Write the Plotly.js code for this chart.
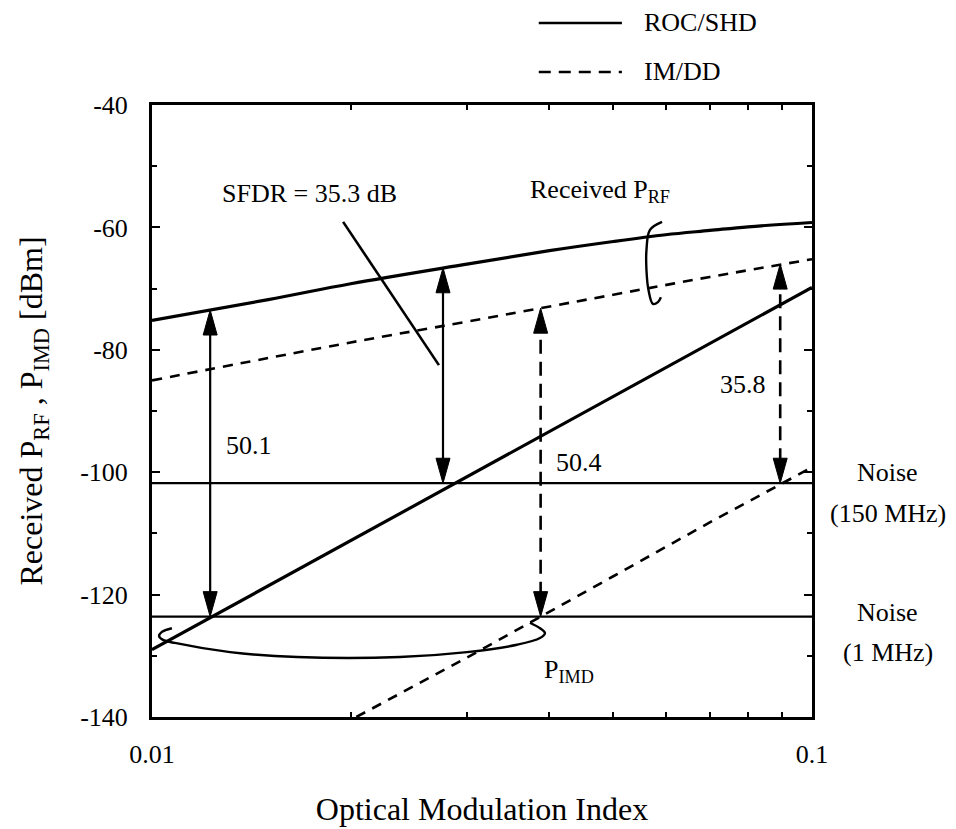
<!DOCTYPE html>
<html>
<head>
<meta charset="utf-8">
<script src="https://cdn.plot.ly/plotly-3.0.1.min.js"></script>
<style>html,body{margin:0;padding:0;background:#fff;}</style>
</head>
<body>
<div id="chart" style="width:956px;height:829px;"></div>
<script>
// ---------- data ----------
const rocRfX   = [0.01, 0.015, 0.02, 0.03, 0.04, 0.05, 0.06, 0.07, 0.08, 0.1];
const rocRfY   = [-75.2, -71.8, -69.2, -66.0, -63.8, -62.3, -61.2, -60.5, -59.9, -59.2];
const rocImdX  = [0.01, 0.02, 0.03, 0.05, 0.07, 0.1];
const rocImdY  = [-129.0, -111.2, -100.8, -87.7, -79.0, -69.8];
const imddRfX  = [0.01, 0.02, 0.03, 0.05, 0.07, 0.1];
const imddRfY  = [-85.0, -78.8, -75.4, -71.0, -68.1, -65.2];
const imddImdX = [0.0204, 0.03, 0.05, 0.07, 0.1];
const imddImdY = [-140.0, -130.3, -117.0, -108.2, -99.2];
const noiseX   = [0.01, 0.1];
const noise150 = -101.8;
const noise1   = -123.6;
// tick labels
const yTickVals = [-140, -120, -100, -80, -60, -40];
const yTickText = ['-140', '-120', '-100', '-80', '-60', '-40'];
const xTickVals = [0.01, 0.1];
const xTickText = ['0.01', '0.1'];
// double arrows: x position, lower end, upper end, series style
const arrowX    = [0.01225, 0.0276, 0.0388, 0.0895];
const arrowLow  = [-123.6, -101.8, -123.6, -101.8];
const arrowHigh = [-73.5, -66.6, -73.2, -66.0];
const arrowDash = [false, false, true, true];
// difference labels
const diffText = ['50.1', '50.4', '35.8'];
const diffX    = [0.01403, 0.04443, 0.07861];
const diffY    = [-95.6, -98.4, -85.7];
// bracket curves (annotation decorations)
const rfBraceX  = [0.05927, 0.05682, 0.05613, 0.05613, 0.05652, 0.05741, 0.05842, 0.05903];
const rfBraceY  = [-59.1, -60.4, -63.7, -67.0, -70.2, -72.5, -72.2, -71.4];
const imdBraceX = [0.01072, 0.01035, 0.01025, 0.01039, 0.01083, 0.01313, 0.01659, 0.02375, 0.03001, 0.03573, 0.03871, 0.03939, 0.03871, 0.03738];
const imdBraceY = [-125.5, -126.1, -126.8, -127.4, -127.9, -129.4, -130.2, -130.2, -129.4, -128.2, -127.1, -126.3, -125.5, -124.6];
const sfdrLeadX = [0.01948, 0.02721];
const sfdrLeadY = [-59.1, -82.5];

// ---------- layout constants ----------
const W = 956, H = 829;
const M = {l: 152, r: 144, t: 105, b: 112};
const plotW = W - M.l - M.r, plotH = H - M.t - M.b;
const xRange = [-2, -1], yRange = [-140, -40];
const pxPerDec = plotW / (xRange[1] - xRange[0]);
const pxPerDb = plotH / (yRange[1] - yRange[0]);
const FONT = 'Liberation Serif, Times New Roman, serif';
const lg = Math.log10;

const traces = [];
function line(x, y, width, dash, shape) {
  traces.push({x: x, y: y, type: 'scatter', mode: 'lines', hoverinfo: 'skip', showlegend: false,
    line: {color: '#000', width: width, dash: dash || 'solid', shape: shape || 'linear'}});
}
line(rocRfX, rocRfY, 3.2, 'solid', 'spline');
line(rocImdX, rocImdY, 3.2);
line(imddRfX, imddRfY, 2.6, '10px,8px', 'spline');
line(imddImdX, imddImdY, 2.6, '10px,8px');
line(noiseX, [noise150, noise150], 2.2);
line(noiseX, [noise1, noise1], 2.2);
line(rfBraceX, rfBraceY, 2.4, 'solid', 'spline');
line(imdBraceX, imdBraceY, 2.4, 'solid', 'spline');
line(sfdrLeadX, sfdrLeadY, 2.6);

// arrows
const headLen = 25, headHalf = 7;
function head(x, yTip, dir) { // dir +1: points up, -1: points down
  const dy = headLen / pxPerDb * dir;
  const f = Math.pow(10, headHalf / pxPerDec);
  traces.push({x: [x, x / f, x * f, x], y: [yTip, yTip - dy, yTip - dy, yTip],
    type: 'scatter', mode: 'lines', fill: 'toself', fillcolor: '#000',
    line: {color: '#000', width: 1}, hoverinfo: 'skip', showlegend: false});
}
for (let i = 0; i < arrowX.length; i++) {
  const off = (headLen - 4) / pxPerDb;
  line([arrowX[i], arrowX[i]], [arrowLow[i] + off, arrowHigh[i] - off], arrowDash[i] ? 2.6 : 2.2,
       arrowDash[i] ? '14px,8px' : 'solid');
  head(arrowX[i], arrowHigh[i], 1);
  head(arrowX[i], arrowLow[i], -1);
}

const tf = (s) => ({family: FONT, size: s, color: '#000'});
const annotations = [];
for (let i = 0; i < diffText.length; i++) {
  annotations.push({x: lg(diffX[i]), y: diffY[i], xref: 'x', yref: 'y', text: diffText[i],
    xanchor: 'center', yanchor: 'middle', showarrow: false, font: tf(26)});
}
annotations.push({x: lg(0.01268), y: -54.5, xref: 'x', yref: 'y', text: 'SFDR = 35.3 dB',
  xanchor: 'left', yanchor: 'middle', showarrow: false, font: tf(26)});
annotations.push({x: lg(0.06136), y: -54.0, xref: 'x', yref: 'y', text: 'Received P<sub>RF</sub>',
  xanchor: 'right', yanchor: 'middle', showarrow: false, font: tf(26)});
annotations.push({x: lg(0.03899), y: -132.5, xref: 'x', yref: 'y', text: 'P<sub>IMD</sub>',
  xanchor: 'left', yanchor: 'middle', showarrow: false, font: tf(26)});
// noise labels (right margin)
const noiseLbl = [['Noise', 0.399], ['(150 MHz)', 0.333], ['Noise', 0.170], ['(1 MHz)', 0.105]];
noiseLbl.forEach(n => annotations.push({x: 1.115, y: n[1], xref: 'paper', yref: 'paper', text: n[0],
  xanchor: 'center', yanchor: 'middle', showarrow: false, font: tf(26)}));
// legend
annotations.push({x: 0.742, y: 1.134, xref: 'paper', yref: 'paper', text: 'ROC/SHD', xanchor: 'left',
  yanchor: 'middle', showarrow: false, font: tf(26)});
annotations.push({x: 0.742, y: 1.054, xref: 'paper', yref: 'paper', text: 'IM/DD', xanchor: 'left',
  yanchor: 'middle', showarrow: false, font: tf(26)});
const shapes = [
  {type: 'line', xref: 'paper', yref: 'paper', x0: 0.586, x1: 0.712, y0: 1.134, y1: 1.134,
   line: {color: '#000', width: 2.4}},
  {type: 'line', xref: 'paper', yref: 'paper', x0: 0.586, x1: 0.712, y0: 1.054, y1: 1.054,
   line: {color: '#000', width: 2.4, dash: '12px,8px'}}
];

const layout = {
  width: W, height: H, margin: M,
  paper_bgcolor: '#fff', plot_bgcolor: '#fff',
  showlegend: false,
  font: tf(26),
  xaxis: {
    type: 'log', range: xRange, tickmode: 'array', tickvals: xTickVals, ticktext: xTickText,
    ticks: 'inside', ticklen: 0, showgrid: false, zeroline: false,
    showline: true, linecolor: '#000', linewidth: 3, mirror: 'ticks',
    ticklabelstandoff: 12, tickfont: tf(26),
    minor: {tickmode: 'array', tickvals: [0.02, 0.03, 0.04, 0.05, 0.06, 0.07, 0.08, 0.09],
      ticks: 'inside', ticklen: 5, tickwidth: 2, tickcolor: '#000', showgrid: false},
    title: {text: 'Optical Modulation Index', font: tf(32), standoff: 30}
  },
  yaxis: {
    range: yRange, tickmode: 'array', tickvals: yTickVals, ticktext: yTickText,
    ticks: 'inside', ticklen: 8, tickwidth: 2, tickcolor: '#000', showgrid: false, zeroline: false,
    showline: true, linecolor: '#000', linewidth: 3, mirror: 'ticks',
    ticklabelstandoff: 16, tickfont: tf(26),
    minor: {tickmode: 'array', tickvals: [-130, -110, -90, -70, -50],
      ticks: 'inside', ticklen: 5, tickwidth: 2, tickcolor: '#000', showgrid: false},
    title: {text: 'Received P<sub>RF</sub> , P<sub>IMD</sub> [dBm]', font: tf(32), standoff: 28}
  },
  annotations: annotations,
  shapes: shapes
};

Plotly.newPlot('chart', traces, layout, {staticPlot: true, displayModeBar: false});
</script>
</body>
</html>
